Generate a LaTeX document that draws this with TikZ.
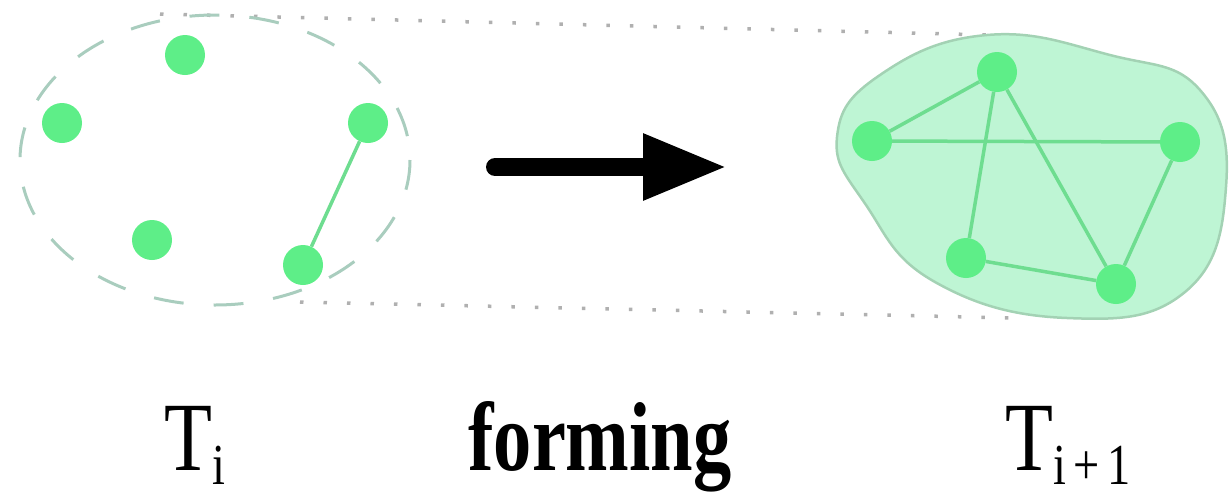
\documentclass[tikz,border=0pt]{standalone}
\usepackage{fontspec}
\setmainfont{Liberation Serif}
\usetikzlibrary{arrows.meta}
\definecolor{nodegreen}{HTML}{5EEE88}
\definecolor{edgegreen}{HTML}{6EDD90}
\definecolor{blobfill}{HTML}{BEF5D4}
\definecolor{blobline}{HTML}{A3D2B4}
\definecolor{dashcol}{HTML}{A9CDBE}
\definecolor{dotcol}{HTML}{B0B0B0}
\tikzset{
  vtx/.style={circle,fill=nodegreen,inner sep=0pt,minimum size=40pt},
  gedge/.style={draw=edgegreen,line width=3.5pt},
  lbl/.style={inner sep=0pt,anchor=base},
  dotline/.style={draw=dotcol,line width=3.5pt,dash pattern=on 3.5pt off 20pt},
}
\begin{document}
\begin{tikzpicture}[x=1pt,y=-1pt]
\useasboundingbox (0,0) rectangle (1232,499);
% dotted guide lines
\coordinate (tl) at (160,14);
\coordinate (tr) at (990,35);
\coordinate (bl) at (300,302);
\coordinate (br) at (1015,318);
\draw[dotline] (tl) -- (tr);
\draw[dotline] (bl) -- (br);
% left dashed ellipse
\draw[draw=dashcol,line width=3pt,dash pattern=on 30pt off 30pt] (215,160) ellipse [x radius=195, y radius=145];
% left nodes
\node[vtx] (a1) at (185,55) {};
\node[vtx] (a2) at (62,123) {};
\node[vtx] (a3) at (368,123) {};
\node[vtx] (a4) at (152,240) {};
\node[vtx] (a5) at (303,265) {};
\draw[gedge] (a3) -- (a5);
% arrow
\coordinate (as) at (495,167);
\coordinate (ae) at (727,167);
\draw[line width=18pt,line cap=round,-{Triangle[length=84pt,width=62pt,line cap=butt]}] (as) -- (ae);
% right blob
\draw[fill=blobfill,draw=blobline,line width=2.5pt]
  plot[smooth cycle,tension=0.75] coordinates {(837,137) (880,75) (987,35) (1110,55) (1200,90) (1226,187) (1185,292) (1067,318) (935,282) (866,205)};
% right nodes
\node[vtx] (b1) at (872,141) {};
\node[vtx] (b2) at (997,72) {};
\node[vtx] (b3) at (1180,142) {};
\node[vtx] (b4) at (966,258) {};
\node[vtx] (b5) at (1116,284) {};
\draw[gedge] (b1) -- (b2);
\draw[gedge] (b1) -- (b3);
\draw[gedge] (b2) -- (b4);
\draw[gedge] (b2) -- (b5);
\draw[gedge] (b3) -- (b5);
\draw[gedge] (b4) -- (b5);
% labels
\node[lbl] (l1) at (195,470) {\fontsize{98}{98}\selectfont\scalebox{0.8}[1]{T\raisebox{-14pt}{\fontsize{58}{58}\selectfont i}}};
\node[lbl] (l2) at (600,470) {\fontsize{98}{98}\selectfont\bfseries\scalebox{0.78}[1]{forming}};
\node[lbl] (l3) at (1068,470) {\fontsize{98}{98}\selectfont\scalebox{0.8}[1]{T\raisebox{-14pt}{\fontsize{58}{58}\selectfont i\,+\,1}}};
\end{tikzpicture}
\end{document}
